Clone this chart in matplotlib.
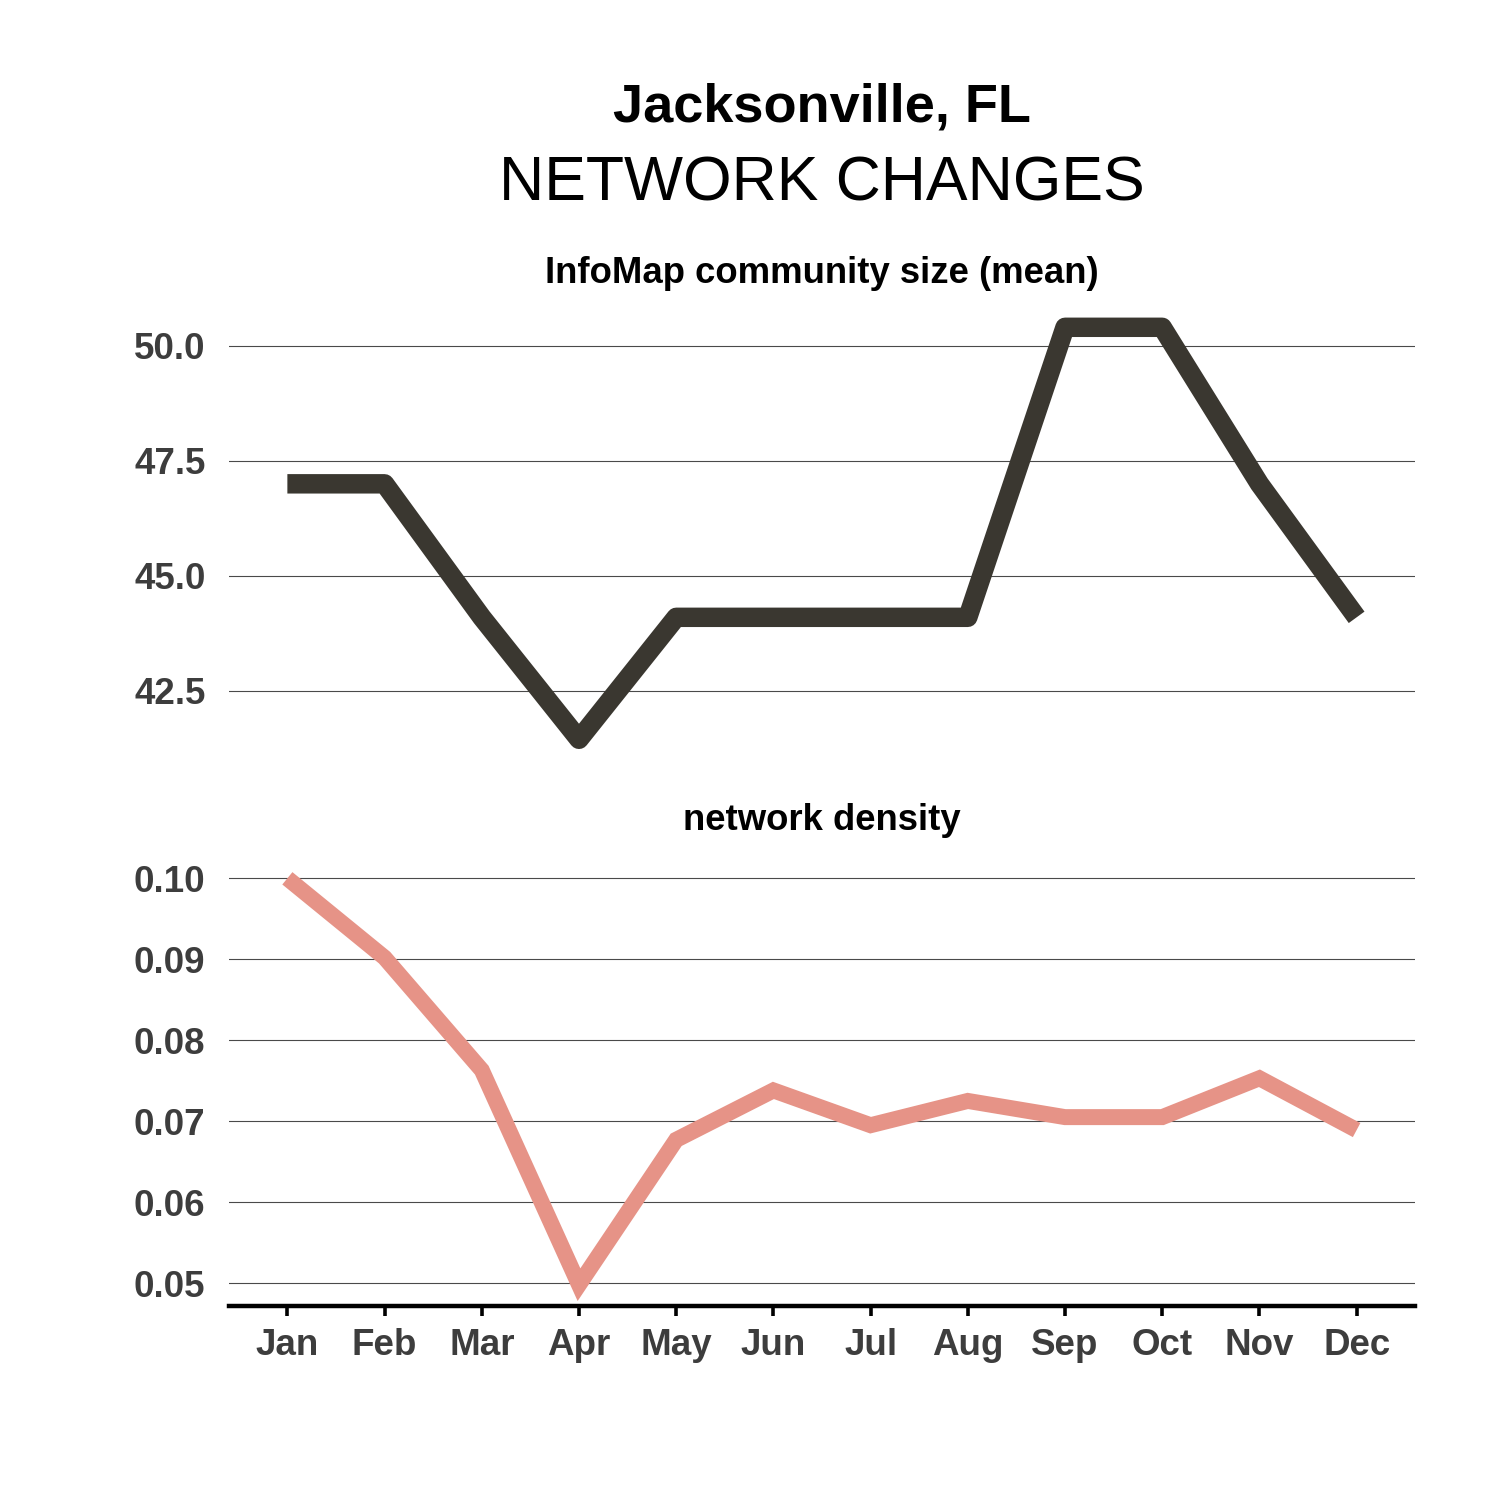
import numpy as np
import matplotlib
matplotlib.use('Agg')
import matplotlib.pyplot as plt

plt.rcParams['font.family'] = ['Liberation Sans', 'DejaVu Sans']

months = ['Jan', 'Feb', 'Mar', 'Apr', 'May', 'Jun', 'Jul', 'Aug', 'Sep', 'Oct', 'Nov', 'Dec']
community_size = [47.0, 47.0, 44.1, 41.45, 44.1, 44.1, 44.1, 44.1, 50.4, 50.4, 47.0, 44.1]
density = [0.1000, 0.0902, 0.0763, 0.0498, 0.0677, 0.0738, 0.0695, 0.0725, 0.0705, 0.0705, 0.0753, 0.0689]

size_ticks = [42.5, 45.0, 47.5, 50.0]
density_ticks = [0.05, 0.06, 0.07, 0.08, 0.09, 0.10]

dark = '#3a3730'
pink = '#e69387'
label_col = '#3d3d3d'


def style_panel(ax, yticks, fmt):
    ax.set_xlim(-0.6, 11.6)
    ax.set_yticks(yticks)
    ax.set_yticklabels([fmt.format(v) for v in yticks])
    ax.yaxis.grid(True, color='#4a4a4a', linewidth=0.8)
    ax.set_axisbelow(True)
    for s in ['top', 'right', 'left', 'bottom']:
        ax.spines[s].set_visible(False)
    ax.tick_params(axis='y', length=0, pad=17, labelsize=26.5, labelcolor=label_col)
    for lab in ax.get_yticklabels():
        lab.set_fontweight('bold')


def main():
    fig = plt.figure(figsize=(15, 15), dpi=100)
    x = np.arange(len(months))

    ax1 = fig.add_axes([0.1527, 0.4927, 0.7906, 0.3026])
    ax1.plot(x, community_size, color=dark, linewidth=14,
             solid_joinstyle='round', solid_capstyle='butt')
    ax1.set_ylim(40.98, 50.84)
    style_panel(ax1, size_ticks, '{:.1f}')
    ax1.set_xticks([])
    ax1.text(0.5, 1.075, 'InfoMap community size (mean)', transform=ax1.transAxes,
             ha='center', va='center', fontsize=26.3, fontweight='bold')

    ax2 = fig.add_axes([0.1527, 0.13, 0.7906, 0.298])
    ax2.plot(x, density, color=pink, linewidth=11.5,
             solid_joinstyle='miter', solid_capstyle='butt')
    ax2.set_ylim(0.04729, 0.10251)
    style_panel(ax2, density_ticks, '{:.2f}')
    ax2.spines['bottom'].set_visible(True)
    ax2.spines['bottom'].set_linewidth(3.2)
    ax2.spines['bottom'].set_color('black')
    ax2.spines['bottom'].set_position(('outward', 1))
    ax2.set_xticks(x)
    ax2.set_xticklabels(months)
    ax2.tick_params(axis='x', length=7.5, width=2.6, color='black', pad=8,
                    labelsize=26.5, labelcolor=label_col)
    for lab in ax2.get_xticklabels():
        lab.set_fontweight('bold')
    ax2.text(0.5, 1.083, 'network density', transform=ax2.transAxes,
             ha='center', va='center', fontsize=26.3, fontweight='bold')

    fig.text(0.548, 1 - 108 / 1500, 'Jacksonville, FL', ha='center', va='center',
             fontsize=39, fontweight='bold')
    fig.text(0.548, 1 - 184 / 1500, 'NETWORK CHANGES', ha='center', va='center',
             fontsize=45)

    fig.savefig('out.png', dpi=100, facecolor='white')


if __name__ == '__main__':
    main()
